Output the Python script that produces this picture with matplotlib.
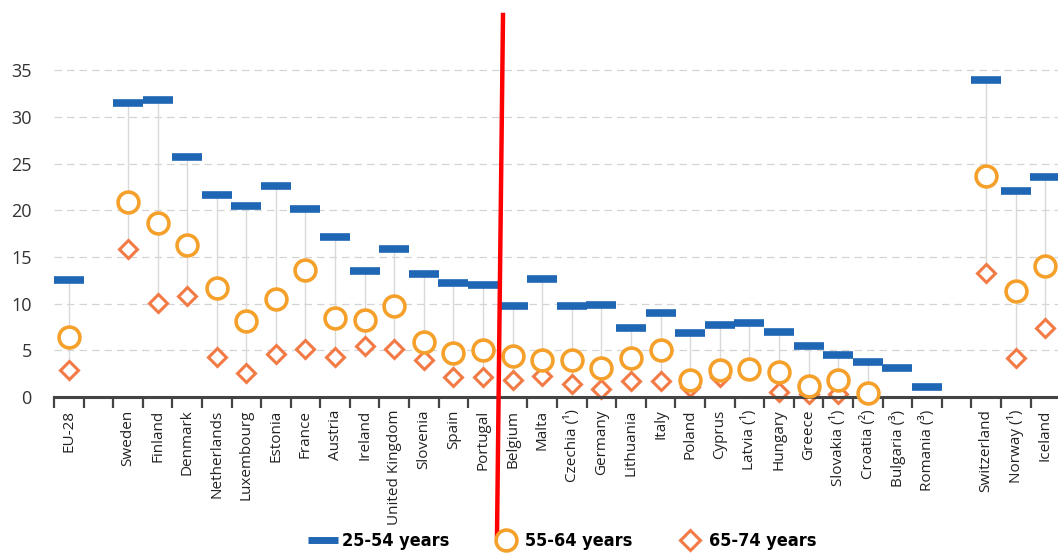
"""
    employment rate by age group, per country
"""

import numpy as np
import matplotlib.pyplot as plt
from matplotlib.lines import Line2D

nan = np.nan

# empty entries leave a gap on the axis
countries = ['EU-28', '', 'Sweden', 'Finland', 'Denmark', 'Netherlands', 'Luxembourg',
             'Estonia', 'France', 'Austria', 'Ireland', 'United Kingdom', 'Slovenia',
             'Spain', 'Portugal', 'Belgium', 'Malta', 'Czechia (¹)', 'Germany',
             'Lithuania', 'Italy', 'Poland', 'Cyprus', 'Latvia (¹)', 'Hungary', 'Greece',
             'Slovakia (¹)', 'Croatia (²)', 'Bulgaria (³)', 'Romania (³)', '',
             'Switzerland', 'Norway (¹)', 'Iceland']

age_25_54 = [12.5, nan, 31.5, 31.8, 25.7, 21.6, 20.5, 22.6, 20.2, 17.1, 13.5, 15.9, 13.2,
             12.2, 12.0, 9.75, 12.6, 9.75, 9.9, 7.4, 9.05, 6.85, 7.7, 7.9, 7.0, 5.5,
             4.5, 3.8, 3.1, 1.05, nan, 34.0, 22.1, 23.6]
age_55_64 = [6.4, nan, 20.9, 18.7, 16.3, 11.7, 8.1, 10.5, 13.6, 8.45, 8.3, 9.8, 5.9,
             4.7, 5.0, 4.4, 4.0, 4.0, 3.15, 4.2, 5.05, 1.8, 2.9, 3.0, 2.65, 1.2,
             1.85, 0.45, nan, nan, nan, 23.65, 11.35, 14.0]
age_65_74 = [2.9, nan, 15.9, 10.1, 10.8, 4.3, 2.6, 4.6, 5.1, 4.3, 5.5, 5.1, 4.0,
             2.2, 2.2, 1.8, 2.3, 1.35, 0.9, 1.7, 1.7, 1.05, 2.2, nan, 0.55, 0.35,
             0.35, nan, nan, nan, nan, 13.3, 4.15, 7.35]

BLUE = '#1f67b5'
ORANGE = '#f5a02a'
RED = '#f27a45'

plt.rcParams['font.family'] = ['Open Sans', 'DejaVu Sans']

fig = plt.figure(figsize=(10.58, 5.53), dpi=100)
ax = fig.add_axes([0.051, 0.282, 0.951, 0.6076])

x = np.arange(len(countries))
data = np.array([age_25_54, age_55_64, age_65_74], dtype=float)

# thin connector from lowest to highest value of each country
lo = np.nanmin(np.where(np.isnan(data), np.inf, data), axis=0)
hi = np.nanmax(np.where(np.isnan(data), -np.inf, data), axis=0)
ok = np.isfinite(lo) & (hi > lo)
ax.vlines(x[ok], lo[ok], hi[ok], color='#d9d9d9', lw=1.0, zorder=1)

ax.plot(x, age_25_54, ls='none', marker='_', ms=22, mew=5.5, color=BLUE,
        zorder=4, clip_on=False)
ax.plot(x, age_55_64, ls='none', marker='o', ms=15, mew=2.6, mfc='white',
        mec=ORANGE, zorder=3, clip_on=False)
ax.plot(x, age_65_74, ls='none', marker='D', ms=9.5, mew=2.2, mfc='white',
        mec=RED, zorder=2, clip_on=False)

ax.set_xlim(-0.5, 33.45)
ax.set_ylim(0, 36)
ax.set_yticks(range(0, 36, 5))
ax.yaxis.grid(True, ls=(0, (6, 4)), color='#d4d4d4', lw=0.9)
ax.set_axisbelow(True)

ax.set_xticks(x)
ax.set_xticklabels(countries, rotation=90, fontsize=11, color='#222222')
ax.set_xticks(np.arange(-0.5, len(countries), 1.0), minor=True)
ax.tick_params(axis='x', which='major', length=0, pad=9)
ax.tick_params(axis='x', which='minor', length=8, width=1.6, color='#444444',
               direction='out')
ax.tick_params(axis='y', length=0, labelsize=13, labelcolor='#333333', pad=16)

for side in ['top', 'right', 'left']:
    ax.spines[side].set_visible(False)
ax.spines['bottom'].set_color('#444444')
ax.spines['bottom'].set_linewidth(2.2)

handles = [
    Line2D([], [], ls='none', marker='_', ms=22, mew=5, color=BLUE),
    Line2D([], [], ls='none', marker='o', ms=15, mew=2.6, mfc='white', mec=ORANGE),
    Line2D([], [], ls='none', marker='D', ms=10, mew=2.2, mfc='white', mec=RED),
]
fig.legend(handles, ['25-54 years', '55-64 years', '65-74 years'], ncol=3,
           loc='center', bbox_to_anchor=(0.532, 0.022), frameon=False,
           prop={'family': 'DejaVu Sans', 'stretch': 'condensed',
                 'weight': 'bold', 'size': 13},
           handletextpad=0.3, columnspacing=2.4, handlelength=1.5)

# hand-drawn divider
fig.add_artist(Line2D([503 / 1058, 497 / 1058], [1 - 15 / 553, 1 - 535 / 553],
                      color='#ff0000', lw=3.2))

fig.savefig('out.png', dpi=100)
